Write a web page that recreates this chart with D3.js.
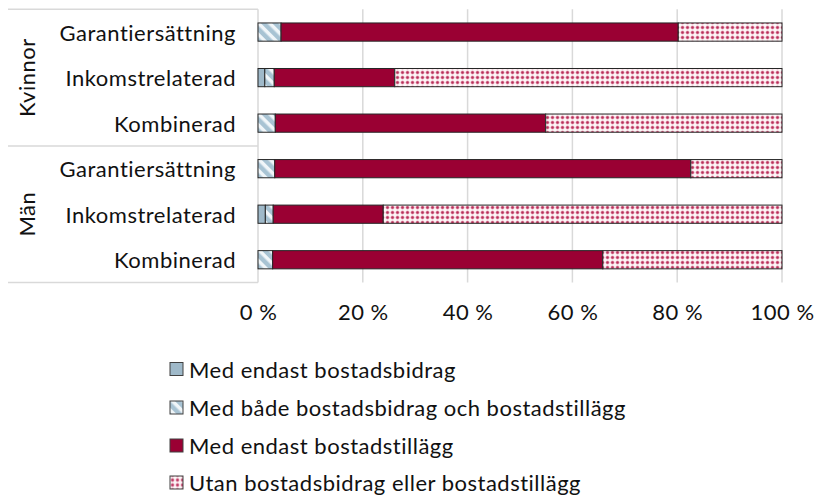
<!DOCTYPE html>
<html>
<head>
<meta charset="utf-8">
<script src="https://cdn.jsdelivr.net/npm/d3@7/dist/d3.min.js"></script>
<style>
  html, body { margin: 0; padding: 0; background: #fff; }
  svg text { font-family: Lato, "Noto Sans", sans-serif; fill: #111; letter-spacing: 0.5px; }
</style>
</head>
<body>
<svg id="chart" width="814" height="495"></svg>
<script>
// Bostadsbidrag / bostadstillägg by pension type and sex (share, %)
const groups = ["Kvinnor", "Män"];
const categories = ["Garantiersättning", "Inkomstrelaterad", "Kombinerad"];
const seriesNames = [
  "Med endast bostadsbidrag",
  "Med både bostadsbidrag och bostadstillägg",
  "Med endast bostadstillägg",
  "Utan bostadsbidrag eller bostadstillägg"
];
// rows: Kvinnor ×3, Män ×3 (same order as categories)
const endastBidrag = [0.0, 1.3, 0.0, 0.0, 1.4, 0.0];
const bada         = [4.4, 1.8, 3.3, 3.2, 1.5, 2.8];
const endastTillagg= [75.8, 23.0, 51.6, 79.4, 21.0, 63.0];
const utan         = [19.8, 73.9, 45.1, 17.4, 76.1, 34.2];
const xTicks = [0, 20, 40, 60, 80, 100];

const FS = 22;
const svg = d3.select("#chart");
const defs = svg.append("defs");

// diagonal hatch (both)
const hatch = defs.append("pattern").attr("id", "hatch")
  .attr("patternUnits", "userSpaceOnUse").attr("width", 8).attr("height", 8)
  .attr("patternTransform", "rotate(-45)");
hatch.append("rect").attr("width", 8).attr("height", 8).attr("fill", "#f1f6f9");
hatch.append("rect").attr("x", 0).attr("width", 4).attr("height", 8).attr("fill", "#a8c3d3");
hatch.append("rect").attr("x", 4).attr("width", 1).attr("height", 8).attr("fill", "#cddde7");

// dotted grid (utan)
const dots = defs.append("pattern").attr("id", "dots")
  .attr("patternUnits", "userSpaceOnUse").attr("width", 5).attr("height", 5);
dots.append("rect").attr("width", 5).attr("height", 5).attr("fill", "#fdf6f8");
dots.append("circle").attr("cx", 2.5).attr("cy", 2.5).attr("r", 2.0).attr("fill", "#e6a3b6");
dots.append("circle").attr("cx", 2.5).attr("cy", 2.5).attr("r", 1.2).attr("fill", "#b92f5b");

const fills = ["#9fb9c9", "url(#hatch)", "#9a0033", "url(#dots)"];
const seriesValues = [endastBidrag, bada, endastTillagg, utan];

const rows = [];
groups.forEach((g, gi) => categories.forEach((c, ci) => rows.push({ key: g + "|" + c, group: g, cat: c, idx: gi * 3 + ci })));

const margin = { left: 258, right: 32, top: 9.3, bottom: 212.5 };
const W = 814, H = 495;
const x = d3.scaleLinear().domain([0, 100]).range([margin.left, W - margin.right]);
const y = d3.scaleBand().domain(rows.map(r => r.key)).range([margin.top, H - margin.bottom]).paddingInner(0.6).paddingOuter(0.3);

// gridlines
const gridBottom = H - margin.bottom;
svg.append("g").selectAll("line").data(xTicks).join("line")
  .attr("x1", d => x(d)).attr("x2", d => x(d))
  .attr("y1", margin.top).attr("y2", gridBottom)
  .attr("stroke", "#d9d9d9").attr("stroke-width", 1.5);

// category axis frame lines
const frameLeft = 8;
const sep = [margin.top, (margin.top + gridBottom) / 2, gridBottom];
svg.append("g").selectAll("line").data(sep).join("line")
  .attr("x1", frameLeft).attr("x2", x(0))
  .attr("y1", d => d).attr("y2", d => d)
  .attr("stroke", "#d9d9d9").attr("stroke-width", 1.5);

// stacked bars
const stackData = rows.map(r => {
  const o = { key: r.key };
  seriesNames.forEach((s, si) => o[s] = seriesValues[si][r.idx]);
  return o;
});
const stacked = d3.stack().keys(seriesNames)(stackData);
const barG = svg.append("g");
stacked.forEach((layer, si) => {
  barG.append("g").selectAll("rect").data(layer.filter(d => d[1] - d[0] > 0)).join("rect")
    .attr("x", d => x(d[0]))
    .attr("width", d => x(d[1]) - x(d[0]))
    .attr("y", d => y(d.data.key))
    .attr("height", y.bandwidth())
    .attr("fill", fills[si])
    .attr("stroke", "#262626").attr("stroke-width", 1);
});

// category labels
svg.append("g").selectAll("text").data(rows).join("text")
  .attr("x", 236).attr("y", d => y(d.key) + y.bandwidth() / 2)
  .attr("text-anchor", "end").attr("dominant-baseline", "central")
  .attr("font-size", FS).text(d => d.cat);

// group labels (rotated)
groups.forEach((g, gi) => {
  const cy = (sep[gi] + sep[gi + 1]) / 2;
  svg.append("text")
    .attr("transform", `translate(26,${cy}) rotate(-90)`)
    .attr("text-anchor", "middle").attr("dominant-baseline", "central")
    .attr("font-size", FS).text(g);
});

// x tick labels
const xAxis = d3.axisBottom(x).tickValues(xTicks).tickFormat(d => d + "\u00a0%").tickSize(0).tickPadding(0);
const axG = svg.append("g").attr("transform", `translate(0,${gridBottom + 22})`).call(xAxis);
axG.select(".domain").remove();
axG.selectAll("text").attr("font-size", FS).attr("font-family", "Lato, 'Noto Sans', sans-serif").attr("fill", "#111");

// legend
const legY = [369, 407.5, 445.5, 482.5];
const leg = svg.append("g").selectAll("g").data(seriesNames).join("g")
  .attr("transform", (d, i) => `translate(170,${legY[i]})`);
leg.append("rect").attr("x", 0).attr("y", -6.5).attr("width", 13).attr("height", 13)
  .attr("fill", (d, i) => fills[i]).attr("stroke", "#404040").attr("stroke-width", 1);
leg.append("text").attr("x", 19).attr("y", 0).attr("dominant-baseline", "central")
  .attr("font-size", FS).text(d => d);
</script>
</body>
</html>
